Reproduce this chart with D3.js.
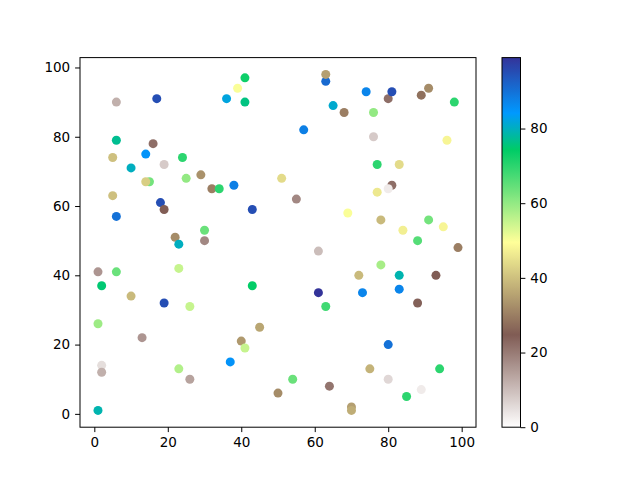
<!DOCTYPE html>
<html><head><meta charset="utf-8">
<script src="https://cdn.jsdelivr.net/npm/d3@7"></script>
<style>body{margin:0;background:#fff}svg{display:block}text{font-family:"DejaVu Sans",sans-serif}</style>
</head><body><svg id="c" width="640" height="480"></svg>
<script>
const xs = [6,17,6,16,5,14,10,19,24,15,14,25,29,32,5,18,19,6,30,22,23,30,41,39,36,41,63,63,65,68,57,34,38,51,55,43,69,74,80,81,91,89,98,76,76,96,77,83,81,80,77,78,84,91,95,88,99,1,6,2,10,19,24,23,26,1,13,2,2,23,26,1,61,43,61,63,45,40,41,37,54,50,64,78,72,83,93,73,83,88,80,75,94,80,89,85,70,70];
const ys = [90,91,79,78,74,75,71,72,74,67,67,68,69,65,63,61,59,57,53,51,49,50,97,94,91,90,96,98,89,87,82,65,66,68,62,59,58,93,91,93,94,92,90,87,80,79,72,72,66,65,64,56,53,56,54,50,48,41,41,37,34,32,43,42,31,26,22,14,12,13,10,1,47,37,35,31,25,21,19,15,10,6,8,43,40,40,40,35,36,32,20,13,13,10,7,5,2,1];
const cs = [12,95,77,22,40,85,80,8,70,63,42,60,33,30,40,95,25,90,64,32,80,18,73,50,82,76,91,35,81,30,88,70,88,44,18,95,50,87,22,95,32,28,70,60,8,48,70,44,22,3,46,39,47,63,48,66,30,16,64,75,39,95,0,55,55,59,16,5,12,57,14,79,10,74,99,68,36,34,55,85,64,32,21,58,39,79,25,87,87,24,90,38,70,6,3,70,35,37];
const xTicks = [0,20,40,60,80,100];
const yTicks = [0,20,40,60,80,100];
const cTicks = [0,20,40,60,80];

// terrain_r colormap
const terrainStops = [[0,[0.2,0.2,0.6]],[0.15,[0,0.6,1]],[0.25,[0,0.8,0.4]],[0.5,[1,1,0.6]],[0.75,[0.5,0.36,0.33]],[1,[1,1,1]]];
function terrain(t){
  t=Math.max(0,Math.min(1,t));
  for(let i=0;i<terrainStops.length-1;i++){
    const [a,ca]=terrainStops[i],[b,cb]=terrainStops[i+1];
    if(t<=b){const f=(t-a)/(b-a);return d3.rgb(...ca.map((v,k)=>255*(v+(cb[k]-v)*f))).formatHex();}
  }
  return "#ffffff";
}
const terrainR = t=>terrain(1-t);

const svg=d3.select("#c");
const L=80,R=476,T=57.6,B=427.2;
const x=d3.scaleLinear().domain([-3.9,103.9]).range([L,R]);
const y=d3.scaleLinear().domain([-3.85,102.85]).range([B,T]);
const cmin=0,cmax=99;
const cnorm=d3.scaleLinear().domain([cmin,cmax]).range([0,1]).clamp(true);

const g=svg.append("g");
const pts=xs.map((v,i)=>({x:v,y:ys[i],c:cs[i]}));
g.selectAll("circle").data(pts).enter().append("circle")
  .attr("cx",d=>x(d.x)).attr("cy",d=>y(d.y)).attr("r",4.5)
  .attr("fill",d=>terrainR(cnorm(d.c)));

svg.append("rect").attr("x",L).attr("y",T).attr("width",R-L).attr("height",B-T)
  .attr("fill","none").attr("stroke","#000").attr("stroke-width",1);

const xa=svg.append("g").attr("transform",`translate(0,${B})`)
  .call(d3.axisBottom(x).tickValues(xTicks).tickSize(4.9).tickPadding(4.9).tickFormat(d3.format("d")));
const ya=svg.append("g").attr("transform",`translate(${L},0)`)
  .call(d3.axisLeft(y).tickValues(yTicks).tickSize(4.9).tickPadding(4.9).tickFormat(d3.format("d")));
[xa,ya].forEach(a=>{a.select(".domain").remove();a.selectAll("text").attr("font-size",13.5).attr("fill","#000").style("font-family","DejaVu Sans");a.selectAll("line").attr("stroke","#000");});

// colorbar
const CL=502,CR=520.5;
const cy=d3.scaleLinear().domain([cmin,cmax]).range([B,T]);
const defs=svg.append("defs");
const grad=defs.append("linearGradient").attr("id","cb").attr("x1",0).attr("y1",1).attr("x2",0).attr("y2",0);
d3.range(0,101).forEach(i=>grad.append("stop").attr("offset",(i/100)).attr("stop-color",terrainR(i/100)));
svg.append("rect").attr("x",CL).attr("y",T).attr("width",CR-CL).attr("height",B-T).attr("fill","url(#cb)")
  .attr("stroke","#000").attr("stroke-width",1);
const ca=svg.append("g").attr("transform",`translate(${CR},0)`)
  .call(d3.axisRight(cy).tickValues(cTicks).tickSize(4.9).tickPadding(4.9).tickFormat(d3.format("d")));
ca.select(".domain").remove();
ca.selectAll("text").attr("font-size",13.5).attr("fill","#000").style("font-family","DejaVu Sans");
ca.selectAll("line").attr("stroke","#000");
</script></body></html>
